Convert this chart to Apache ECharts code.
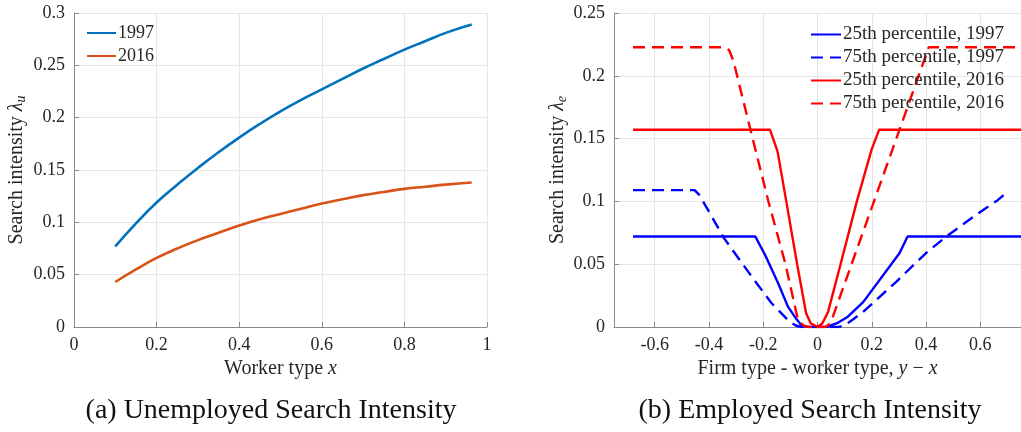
<!DOCTYPE html>
<html>
<head>
<meta charset="utf-8">
<script src="https://cdn.jsdelivr.net/npm/echarts@6/dist/echarts.min.js"></script>
<style>
  html, body { margin: 0; padding: 0; background: #ffffff; }
  #chart { width: 1021px; height: 432px; }
</style>
</head>
<body>
<div id="chart"></div>
<script>
// ---- Panel (a): unemployed search intensity ----
const workerX = [0.1, 0.15, 0.2, 0.25, 0.3, 0.35, 0.4, 0.45, 0.5, 0.55, 0.6, 0.65, 0.7, 0.75, 0.8, 0.85, 0.9, 0.963];
const lam1997 = [0.077, 0.099, 0.119, 0.136, 0.152, 0.167, 0.181, 0.194, 0.206, 0.217, 0.227, 0.237, 0.247, 0.256, 0.265, 0.273, 0.281, 0.289];
const lam2016 = [0.043, 0.055, 0.066, 0.075, 0.083, 0.090, 0.097, 0.103, 0.108, 0.113, 0.118, 0.122, 0.126, 0.129, 0.132, 0.134, 0.136, 0.138];

// ---- Panel (b): employed search intensity ----
const xP25_1997 = [-0.68, -0.229, -0.193, -0.145, -0.109, -0.084, -0.06, -0.04, 0, 0.036, 0.072, 0.109, 0.169, 0.302, 0.332, 0.75];
const yP25_1997 = [0.072, 0.072, 0.0573, 0.0348, 0.0162, 0.0082, 0.0015, 0.0002, 0, 0.0002, 0.003, 0.0077, 0.020, 0.0587, 0.072, 0.072];

const xP75_1997 = [-0.68, -0.453, -0.435, -0.344, -0.242, -0.169, -0.103, -0.08, -0.06, 0, 0.08, 0.1025, 0.133, 0.169, 0.29, 0.399, 0.471, 0.592, 0.664, 0.70];
const yP75_1997 = [0.109, 0.109, 0.105, 0.0706, 0.040, 0.0189, 0.0042, 0.0012, 0, 0, 0, 0.0016, 0.0064, 0.0122, 0.036, 0.0587, 0.0714, 0.0905, 0.101, 0.1075];

const xP25_2016 = [-0.68, -0.175, -0.147, -0.115, -0.075, -0.042, -0.025, 0, 0.018, 0.039, 0.085, 0.145, 0.199, 0.227, 0.75];
const yP25_2016 = [0.157, 0.157, 0.1396, 0.1, 0.05, 0.011, 0.003, 0, 0.003, 0.012, 0.05, 0.1, 0.141, 0.157, 0.157];

const xP75_2016 = [-0.68, -0.344, -0.326, -0.31, -0.247, -0.181, -0.118, -0.072, -0.05, -0.03, 0, 0.03, 0.048, 0.199, 0.302, 0.41, 0.75];
const yP75_2016 = [0.2227, 0.2227, 0.2205, 0.212, 0.157, 0.1, 0.05, 0.0056, 0.001, 0, 0, 0, 0.003, 0.0945, 0.157, 0.2227, 0.2227];

const seriesNamesA = ['1997', '2016'];
const seriesNamesB = ['25th percentile, 1997', '75th percentile, 1997', '25th percentile, 2016', '75th percentile, 2016'];
const captionA = '(a) Unemployed Search Intensity';
const captionB = '(b) Employed Search Intensity';

const zip = (xs, ys) => xs.map((x, i) => [x, ys[i]]);

const SERIF = "'Liberation Serif', 'Times New Roman', serif";
const AXIS_GRAY = '#8a8a8a';
const GRID_GRAY = '#e6e6e6';
const TXT = '#262626';
const DASH = [12, 7];

const tickFmt = v => '{t|' + String(parseFloat(Number(v).toFixed(4))) + '}';
function labelStyle(extra) {
  return Object.assign({
    color: TXT, fontFamily: SERIF, fontSize: 18, margin: 9,
    formatter: tickFmt,
    rich: { t: { fontFamily: SERIF, fontSize: 18, color: TXT } }
  }, extra || {});
}

function axisCommon() {
  return {
    axisLine: { show: true, onZero: false, lineStyle: { color: AXIS_GRAY, width: 1 } },
    axisTick: { show: true, inside: true, length: 5, lineStyle: { color: AXIS_GRAY } },
    splitLine: { show: true, lineStyle: { color: GRID_GRAY, width: 1 } },
    axisLabel: labelStyle()
  };
}

const richName = {
  i: { fontFamily: SERIF, fontStyle: 'italic', fontSize: 20, color: TXT },
  l: { fontFamily: SERIF, fontStyle: 'italic', fontSize: 20, color: TXT },
  s: { fontFamily: SERIF, fontStyle: 'italic', fontSize: 14, color: TXT, padding: [8, 0, 0, 0] }
};
const nameStyle = { color: TXT, fontFamily: SERIF, fontSize: 20, rich: richName };

const chart = echarts.init(document.getElementById('chart'), null, { renderer: 'canvas' });

const option = {
  backgroundColor: '#ffffff',
  animation: false,
  textStyle: { fontFamily: SERIF },
  grid: [
    { left: 74, top: 13, width: 413, height: 314 },
    { left: 614, top: 13, right: -5, height: 314 }
  ],
  xAxis: [
    Object.assign(axisCommon(), {
      type: 'value', gridIndex: 0, min: 0, max: 1, interval: 0.2,
      name: 'Worker type {i|x}', nameLocation: 'middle', nameGap: 30, nameTextStyle: nameStyle
    }),
    Object.assign(axisCommon(), {
      type: 'value', gridIndex: 1, min: -0.75, max: 0.75, splitNumber: 7,
      name: 'Firm type - worker type, {i|y} − {i|x}', nameLocation: 'middle', nameGap: 30, nameTextStyle: nameStyle,
      axisLabel: labelStyle({ showMinLabel: false, showMaxLabel: false })
    })
  ],
  yAxis: [
    Object.assign(axisCommon(), {
      type: 'value', gridIndex: 0, min: 0, max: 0.3, interval: 0.05,
      name: 'Search intensity {l|λ}{s|u}', nameLocation: 'middle', nameGap: 46, nameTextStyle: nameStyle
    }),
    Object.assign(axisCommon(), {
      type: 'value', gridIndex: 1, min: 0, max: 0.25, interval: 0.05,
      name: 'Search intensity {l|λ}{s|e}', nameLocation: 'middle', nameGap: 45, nameTextStyle: nameStyle
    })
  ],
  legend: [
    {
      data: seriesNamesA.map(n => ({ name: n })), orient: 'vertical', left: 86, top: 24,
      itemWidth: 29, itemHeight: 14, itemGap: 5,
      itemStyle: { opacity: 0 },
      textStyle: { color: TXT, fontFamily: SERIF, fontSize: 18, padding: [0, 0, 0, -3] },
      backgroundColor: 'transparent', padding: 0
    },
    {
      data: seriesNamesB.map((n, i) => (i % 2 === 1 ? { name: n, lineStyle: { type: DASH } } : { name: n })),
      orient: 'vertical', left: 810, top: 25,
      itemWidth: 30, itemHeight: 14, itemGap: 4,
      itemStyle: { opacity: 0 },
      textStyle: { color: TXT, fontFamily: SERIF, fontSize: 19, padding: [0, 0, 0, -3] },
      backgroundColor: 'transparent', padding: 0
    }
  ],
  series: [
    { name: seriesNamesA[0], type: 'line', xAxisIndex: 0, yAxisIndex: 0, data: zip(workerX, lam1997),
      smooth: true, symbol: 'none', lineStyle: { color: '#0072BD', width: 2.6 }, itemStyle: { color: '#0072BD' } },
    { name: seriesNamesA[1], type: 'line', xAxisIndex: 0, yAxisIndex: 0, data: zip(workerX, lam2016),
      smooth: true, symbol: 'none', lineStyle: { color: '#D95319', width: 2.6 }, itemStyle: { color: '#D95319' } },
    { name: seriesNamesB[0], type: 'line', xAxisIndex: 1, yAxisIndex: 1, data: zip(xP25_1997, yP25_1997),
      symbol: 'none', lineStyle: { color: '#0000FF', width: 2.4 }, itemStyle: { color: '#0000FF' } },
    { name: seriesNamesB[1], type: 'line', xAxisIndex: 1, yAxisIndex: 1, data: zip(xP75_1997, yP75_1997),
      symbol: 'none', lineStyle: { color: '#0000FF', width: 2.4, type: DASH }, itemStyle: { color: '#0000FF' } },
    { name: seriesNamesB[2], type: 'line', xAxisIndex: 1, yAxisIndex: 1, data: zip(xP25_2016, yP25_2016),
      symbol: 'none', lineStyle: { color: '#FF0000', width: 2.4 }, itemStyle: { color: '#FF0000' } },
    { name: seriesNamesB[3], type: 'line', xAxisIndex: 1, yAxisIndex: 1, data: zip(xP75_2016, yP75_2016),
      symbol: 'none', lineStyle: { color: '#FF0000', width: 2.4, type: DASH }, itemStyle: { color: '#FF0000' } }
  ],
  graphic: [
    { type: 'text', x: 271, y: 411, style: { text: captionA, font: '28px "Liberation Serif"', fill: '#111111', align: 'center', verticalAlign: 'middle' } },
    { type: 'text', x: 810, y: 411, style: { text: captionB, font: '28px "Liberation Serif"', fill: '#111111', align: 'center', verticalAlign: 'middle' } }
  ]
};

chart.setOption(option);
</script>
</body>
</html>
